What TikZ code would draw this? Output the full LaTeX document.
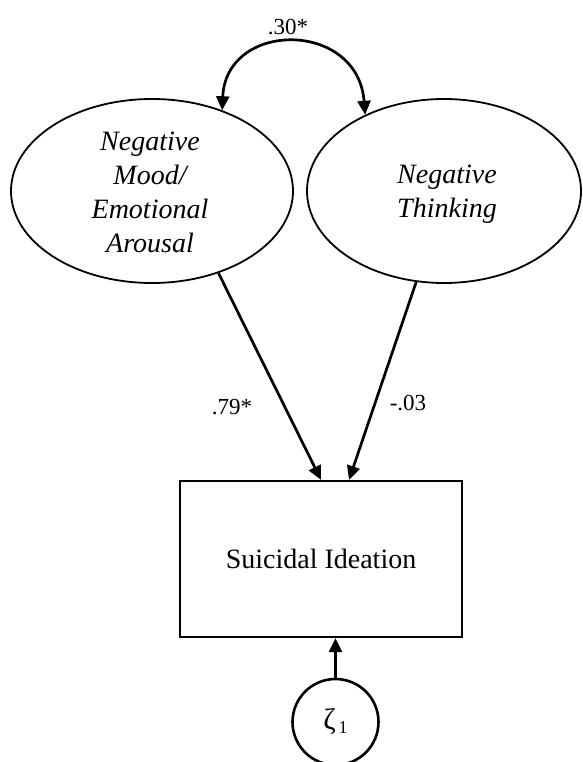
\documentclass[tikz,border=0pt]{standalone}
\usepackage{fontspec}
\setmainfont{Liberation Serif}
\usetikzlibrary{shapes.geometric,arrows.meta,calc}
\begin{document}
\begin{tikzpicture}[x=1pt,y=-1pt,
  latent/.style={ellipse,draw,line width=1.8pt,minimum width=282pt,minimum height=184pt,inner sep=0pt},
  ltext/.style={align=center,inner sep=0pt,font=\fontsize{28}{34}\selectfont\itshape},
  obs/.style={rectangle,draw,line width=2.2pt,minimum width=282pt,minimum height=156pt,inner sep=0pt,font=\fontsize{28}{34}\selectfont},
  err/.style={circle,draw,line width=2.6pt,minimum size=86pt,inner sep=0pt},
  arr/.style={line width=2.7pt,-{Triangle[length=14pt,width=13pt]}},
  dbl/.style={line width=2.7pt,{Triangle[length=14pt,width=13pt]}-{Triangle[length=14pt,width=13pt]}},
  lbl/.style={font=\fontsize{23}{23}\selectfont,inner sep=0pt}]
\useasboundingbox (0,0) rectangle (582,762);
\node[latent] (L) at (152,191) {};
\node[ltext] (Lt) at (150,192) {Negative\\Mood/\\Emotional\\Arousal};
\node[latent,minimum width=274pt] (R) at (444,191) {};
\node[ltext] (Rt) at (447,194) {Negative\\Thinking};
\node[obs] (O) at (321,559) {Suicidal Ideation};
\node[err] (Z) at (335.5,722) {{\fontsize{30}{30}\selectfont ζ}{\fontsize{18}{18}\selectfont\,\raisebox{-4pt}{1}}};
\draw[dbl] (L.49) .. controls (226,20) and (358,20) .. (R.136);
\node[lbl] (c) at (288,27) {.30*};
\draw[arr] (L.-51) -- (O.north);
\draw[arr] (R.-107) -- ([xshift=28pt]O.north);
\node[lbl] (b1) at (232,407) {.79*};
\node[lbl] (b2) at (408,403) {-.03};
\draw[arr] (Z.north) -- (Z.north |- O.south);
\end{tikzpicture}
\end{document}
